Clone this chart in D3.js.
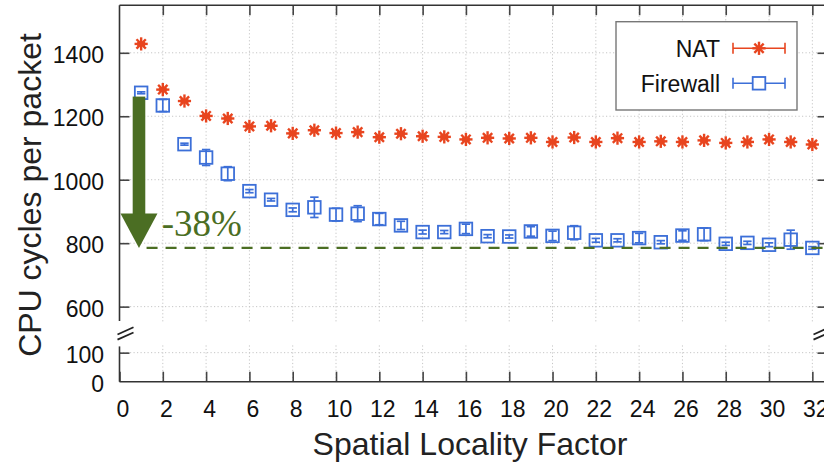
<!DOCTYPE html>
<html>
<head>
<meta charset="utf-8">
<script src="https://cdn.jsdelivr.net/npm/d3@7"></script>
<style>
  html, body { margin: 0; padding: 0; background: #fff; }
  svg { display: block; }
  text { font-family: "Liberation Sans", Arial, Helvetica, sans-serif; }
  text.serif { font-family: "Liberation Serif", "Times New Roman", serif; }
</style>
</head>
<body>
<svg id="chart" width="824" height="463"></svg>
<script>
// Spatial locality factor on the x axis
const factors = [1,2,3,4,5,6,7,8,9,10,11,12,13,14,15,16,17,18,19,20,21,22,23,24,25,26,27,28,29,30,31,32];

// CPU cycles per packet, NAT
const natValues = [1428,1284,1248,1201,1193,1168,1170,1146,1156,1147,1150,1134,1145,1137,1135,1127,1132,1130,1132,1119,1133,1119,1131,1119,1121,1119,1124,1116,1119,1127,1119,1111];
const natErr    = [4,4,4,4,4,4,4,4,4,4,4,4,4,4,4,4,4,4,4,4,4,4,4,4,4,4,4,4,4,4,4,4];

// CPU cycles per packet, Firewall
const fwValues = [1274,1234,1112,1070,1019,964,937,905,913,890,893,876,856,835,835,845,822,821,837,823,833,809,809,816,803,824,828,798,801,795,811,785];
const fwErr    = [3,19,3,25,22,5,4,6,32,20,25,18,13,6,5,15,5,5,15,15,22,6,5,15,5,15,20,5,5,6,30,4];

// Axis ticks
const xTicks = [0,2,4,6,8,10,12,14,16,18,20,22,24,26,28,30,32];
const yTicksUpper = [600,800,1000,1200,1400];
const yTicksLower = [0,100];

// Annotation: drop from the first Firewall point to the final level
const dropFrom = 1262;
const dropTo = fwValues[fwValues.length - 1];
const dropLabel = "-38%";

const seriesNames = ["NAT", "Firewall"];
const natColor = "#e8451f";
const fwColor = "#3c6fd8";
const green = "#4b6e23";

const svg = d3.select("#chart");

// Broken y axis: a main segment and a small segment near zero
const x = d3.scaleLinear().domain([0, 32.7]).range([119.5, 827.5]);
const yHi = d3.scaleLinear().domain([550, 1550]).range([322.5, 5.2]);
const yLo = d3.scaleLinear().domain([0, 125]).range([381.7, 345.4]);

const plotLeft = x.range()[0], plotRight = x.range()[1];
const plotTop = yHi.range()[1], plotBottom = yLo.range()[0];
const hiBottom = yHi.range()[0], loTop = yLo.range()[1];

// Grid
const grid = svg.append("g")
  .attr("stroke", "#c6c6c6").attr("stroke-width", 1)
  .attr("stroke-dasharray", "1.2,2.3").attr("fill", "none");
xTicks.filter(d => d > 0).forEach(d => {
  grid.append("line").attr("x1", x(d)).attr("x2", x(d)).attr("y1", plotTop).attr("y2", hiBottom);
  grid.append("line").attr("x1", x(d)).attr("x2", x(d)).attr("y1", loTop).attr("y2", plotBottom);
});
yTicksUpper.forEach(d => grid.append("line").attr("x1", plotLeft).attr("x2", plotRight).attr("y1", yHi(d)).attr("y2", yHi(d)));
yTicksLower.filter(d => d > 0).forEach(d => grid.append("line").attr("x1", plotLeft).attr("x2", plotRight).attr("y1", yLo(d)).attr("y2", yLo(d)));

// Axes with inward ticks
const tickFont = 23;
function styleAxis(g) {
  g.select(".domain").remove();
  g.selectAll(".tick line").attr("stroke", "#444").attr("stroke-width", 1.6);
  g.selectAll(".tick text").attr("font-size", tickFont).attr("fill", "#111");
}

svg.append("g").attr("transform", `translate(0,${plotBottom})`)
  .call(d3.axisBottom(x).tickValues(xTicks).tickFormat(d3.format("d")).tickSizeInner(-10).tickSizeOuter(0).tickPadding(18.5))
  .call(styleAxis)
  .call(g => g.selectAll(".tick text").attr("dx", 3));

svg.append("g").attr("transform", `translate(0,${plotTop})`)
  .call(d3.axisTop(x).tickValues(xTicks.filter(d => d > 0)).tickFormat("").tickSizeInner(-10).tickSizeOuter(0))
  .call(styleAxis);

svg.append("g").attr("transform", `translate(${plotLeft},0)`)
  .call(d3.axisLeft(yHi).tickValues(yTicksUpper).tickFormat(d3.format("d")).tickSizeInner(-10).tickSizeOuter(0).tickPadding(15.5))
  .call(styleAxis)
  .call(g => g.selectAll(".tick text").attr("dy", "0.42em"));

svg.append("g").attr("transform", `translate(${plotLeft},0)`)
  .call(d3.axisLeft(yLo).tickValues(yTicksLower).tickFormat(d3.format("d")).tickSizeInner(-10).tickSizeOuter(0).tickPadding(15.5))
  .call(styleAxis)
  .call(g => g.selectAll(".tick text").attr("dy", "0.42em"))
  .call(g => g.selectAll(".tick").filter(d => d === 0).select("line").remove());

svg.append("g").attr("transform", `translate(${plotRight},0)`)
  .call(d3.axisRight(yHi).tickValues(yTicksUpper).tickFormat("").tickSizeInner(-10).tickSizeOuter(0))
  .call(styleAxis);
svg.append("g").attr("transform", `translate(${plotRight},0)`)
  .call(d3.axisRight(yLo).tickValues(yTicksLower.filter(d => d > 0)).tickFormat("").tickSizeInner(-10).tickSizeOuter(0))
  .call(styleAxis);

// Frame with gaps at the break
const frame = svg.append("g").attr("stroke", "#333").attr("stroke-width", 1.6).attr("fill", "none");
frame.append("line").attr("x1", plotLeft).attr("x2", plotRight).attr("y1", plotTop).attr("y2", plotTop);
frame.append("line").attr("x1", plotLeft).attr("x2", plotRight).attr("y1", plotBottom).attr("y2", plotBottom);
[plotLeft, plotRight].forEach(xx => {
  frame.append("line").attr("x1", xx).attr("x2", xx).attr("y1", plotTop).attr("y2", hiBottom - 1.5);
  frame.append("line").attr("x1", xx).attr("x2", xx).attr("y1", loTop + 1).attr("y2", plotBottom);
});
// Break marks
const breakY = (hiBottom + loTop) / 2 - 0.5;
function breakMark(cx) {
  [-2.6, 2.6].forEach(o => {
    frame.append("line").attr("stroke", "#222").attr("stroke-width", 1.8)
      .attr("x1", cx - 8).attr("y1", breakY + o + 3.6)
      .attr("x2", cx + 8).attr("y2", breakY + o - 3.6);
  });
}
breakMark(plotLeft + 6);
breakMark(plotRight - 6);

// Axis titles
svg.append("text")
  .attr("transform", `translate(40.5,${195}) rotate(-90)`)
  .attr("text-anchor", "middle").attr("font-size", 32).attr("fill", "#222")
  .text("CPU cycles per packet");
svg.append("text")
  .attr("x", 470).attr("y", 455)
  .attr("text-anchor", "middle").attr("font-size", 32).attr("fill", "#222")
  .text("Spatial Locality Factor");

// Markers
function star(g, cx, cy, r, color) {
  const s = g.append("g").attr("stroke", color).attr("stroke-width", 2.4).attr("stroke-linecap", "butt");
  [0, 45, 90, 135].forEach(a => {
    const rad = a * Math.PI / 180, dx = r * Math.cos(rad), dy = r * Math.sin(rad);
    s.append("line").attr("x1", cx - dx).attr("y1", cy - dy).attr("x2", cx + dx).attr("y2", cy + dy);
  });
}
function errBar(g, cx, yTop, yBot, color, capW) {
  const e = g.append("g").attr("stroke", color).attr("stroke-width", 1.7);
  e.append("line").attr("x1", cx).attr("x2", cx).attr("y1", yTop).attr("y2", yBot);
  e.append("line").attr("x1", cx - capW).attr("x2", cx + capW).attr("y1", yTop).attr("y2", yTop);
  e.append("line").attr("x1", cx - capW).attr("x2", cx + capW).attr("y1", yBot).attr("y2", yBot);
}

// Firewall series: squares with error bars
const sq = 12.6;
const fwG = svg.append("g");
factors.forEach((f, i) => {
  const cx = x(f), cy = yHi(fwValues[i]);
  errBar(fwG, cx, yHi(fwValues[i] + fwErr[i]), yHi(fwValues[i] - fwErr[i]), fwColor, 4.2);
  fwG.append("rect").attr("x", cx - sq / 2).attr("y", cy - sq / 2).attr("width", sq).attr("height", sq)
    .attr("fill", "none").attr("stroke", fwColor).attr("stroke-width", 1.8);
});

// NAT series: stars with error bars
const natG = svg.append("g");
factors.forEach((f, i) => {
  const cx = x(f), cy = yHi(natValues[i]);
  errBar(natG, cx, yHi(natValues[i] + natErr[i]), yHi(natValues[i] - natErr[i]), natColor, 4);
  star(natG, cx, cy, 6.6, natColor);
});

// Annotation arrow and reduction level
const ann = svg.append("g");
const ax = x(0.9);
const headTop = yHi(dropTo) - 34.5;
ann.append("rect").attr("x", ax - 6.3).attr("y", yHi(dropFrom)).attr("width", 12.6)
  .attr("height", headTop - yHi(dropFrom) + 1).attr("fill", green);
ann.append("path")
  .attr("d", `M${ax - 18.5},${headTop} L${ax + 18.5},${headTop} L${ax},${yHi(dropTo)} Z`)
  .attr("fill", green);
ann.append("line")
  .attr("x1", x(1.25)).attr("x2", plotRight).attr("y1", yHi(dropTo)).attr("y2", yHi(dropTo))
  .attr("stroke", green).attr("stroke-width", 2.3).attr("stroke-dasharray", "11,8");
ann.append("text")
  .attr("class", "serif")
  .attr("x", x(1.95)).attr("y", yHi(dropTo) - 11.5)
  .attr("font-size", 37).attr("fill", green)
  .text(dropLabel);

// Legend
const leg = svg.append("g");
leg.append("rect").attr("x", 616).attr("y", 21.7).attr("width", 181).attr("height", 88.3)
  .attr("fill", "#fff").attr("stroke", "#777").attr("stroke-width", 1.4);
const legRows = [
  { name: seriesNames[0], color: natColor, y: 48.3, marker: "star" },
  { name: seriesNames[1], color: fwColor, y: 83.3, marker: "square" }
];
legRows.forEach(r => {
  leg.append("text").attr("x", 720).attr("y", r.y + 8.3).attr("text-anchor", "end")
    .attr("font-size", 23).attr("fill", "#111").text(r.name);
  const lg = leg.append("g").attr("stroke", r.color).attr("stroke-width", 1.6);
  lg.append("line").attr("x1", 733).attr("x2", 785).attr("y1", r.y).attr("y2", r.y);
  lg.append("line").attr("x1", 733).attr("x2", 733).attr("y1", r.y - 5.5).attr("y2", r.y + 5.5);
  lg.append("line").attr("x1", 785).attr("x2", 785).attr("y1", r.y - 5.5).attr("y2", r.y + 5.5);
  if (r.marker === "star") {
    star(leg, 759, r.y, 6.6, r.color);
  } else {
    leg.append("rect").attr("x", 759 - sq / 2).attr("y", r.y - sq / 2).attr("width", sq).attr("height", sq)
      .attr("fill", "#fff").attr("stroke", r.color).attr("stroke-width", 1.8);
  }
});
</script>
</body>
</html>
